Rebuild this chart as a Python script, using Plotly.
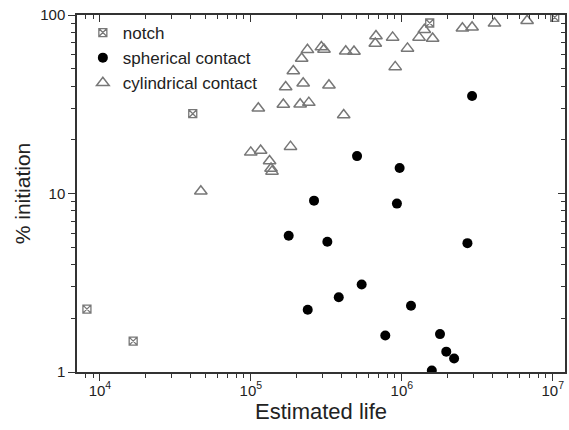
import plotly.graph_objects as go

# ---- data ----
notch_x = [8.2e3, 1.66e4, 4.12e4, 1.53e6, 1.03e7]
notch_y = [2.25, 1.49, 28.0, 90.2, 97.0]

sph_x = [5.05e5, 9.67e5, 2.92e6, 2.62e5, 9.28e5, 1.78e5, 3.21e5, 5.42e5, 3.82e5,
         2.38e5, 7.77e5, 2.72e6, 1.15e6, 1.79e6, 1.97e6, 2.22e6, 1.58e6]
sph_y = [16.2, 13.9, 35.2, 9.12, 8.78, 5.80, 5.37, 3.09, 2.62,
         2.23, 1.60, 5.27, 2.35, 1.63, 1.30, 1.19, 1.02]

cyl_x = [4.66e4, 6.74e5, 6.67e5, 8.69e5, 9.04e5, 2.37e5, 2.93e5, 3.05e5, 4.25e5,
         4.82e5, 2.17e5, 1.91e5, 2.22e5, 1.70e5, 3.29e5, 1.12e5, 1.64e5, 2.12e5,
         2.42e5, 4.12e5, 9.98e4, 1.16e5, 1.83e5, 1.33e5, 1.36e5, 1.38e5, 1.41e6,
         1.30e6, 1.60e6, 1.09e6, 2.52e6, 2.92e6, 4.11e6, 6.76e6]
cyl_y = [10.3, 76.2, 69.3, 74.9, 51.2, 63.8, 66.1, 64.1, 62.7,
         62.5, 57.1, 48.6, 41.5, 39.5, 40.4, 30.0, 31.5, 31.6,
         32.3, 27.5, 17.0, 17.4, 18.3, 15.2, 13.8, 13.3, 82.7,
         74.9, 73.9, 65.0, 84.2, 85.3, 89.8, 92.9]

x_tickvals = [1e4, 1e5, 1e6, 1e7]
x_ticktext = ["10<sup>4</sup>", "10<sup>5</sup>", "10<sup>6</sup>", "10<sup>7</sup>"]
y_tickvals = [1, 10, 100]
y_ticktext = ["1", "10", "100"]

XRANGE = [3.848, 7.081]
YRANGE = [0, 2.0]
FONT = "Liberation Sans, Arial, sans-serif"
AX = "#333333"

fig = go.Figure()
fig.add_trace(go.Scatter(
    x=notch_x, y=notch_y, mode="markers", name="notch",
    marker=dict(symbol="square-x-open", size=8, color="#777777",
                line=dict(width=1.3, color="#777777"))))
fig.add_trace(go.Scatter(
    x=sph_x, y=sph_y, mode="markers", name="spherical contact",
    marker=dict(symbol="circle", size=10, color="black", line=dict(width=0))))
fig.add_trace(go.Scatter(
    x=cyl_x, y=cyl_y, mode="markers", name="cylindrical contact",
    marker=dict(symbol="triangle-up-open", size=11, color="#777777",
                line=dict(width=1.5, color="#777777"))))
# helper trace for the mirrored (inside-tick) axes
fig.add_trace(go.Scatter(x=[1e5], y=[10], xaxis="x2", yaxis="y2", mode="markers",
                         marker=dict(opacity=0), showlegend=False, hoverinfo="skip"))

common = dict(type="log", showline=True, linecolor=AX, linewidth=1.5,
              showgrid=False, zeroline=False, tickcolor=AX, tickwidth=1.3)

fig.update_layout(
    width=569, height=430,
    margin=dict(l=77, r=4, t=15, b=58),
    paper_bgcolor="white", plot_bgcolor="white",
    font=dict(family=FONT, size=15, color="#222222"),
    showlegend=True,
    legend=dict(x=0.012, y=1.0, xanchor="left", yanchor="top",
                bgcolor="rgba(0,0,0,0)", font=dict(size=17, color="#222222"),
                itemsizing="trace", tracegroupgap=0),
    xaxis=dict(**common, range=XRANGE, tickvals=x_tickvals, ticktext=x_ticktext,
               ticks="outside", ticklen=7, ticklabelstandoff=-3,
               minor=dict(ticks="outside", ticklen=4, dtick="D1", tickcolor=AX, tickwidth=1.2),
               title=dict(text="Estimated life", font=dict(size=22), standoff=2),
               tickfont=dict(size=15)),
    yaxis=dict(**common, range=YRANGE, tickvals=y_tickvals, ticktext=y_ticktext,
               ticks="outside", ticklen=7,
               minor=dict(ticks="outside", ticklen=4, dtick="D1", tickcolor=AX, tickwidth=1.2),
               title=dict(text="% initiation", font=dict(size=21), standoff=4),
               tickfont=dict(size=15)),
    xaxis2=dict(**common, range=XRANGE, overlaying="x", side="top", anchor="y2",
                tickvals=x_tickvals, showticklabels=False, ticks="inside", ticklen=7,
                minor=dict(ticks="inside", ticklen=4, dtick="D1", tickcolor=AX, tickwidth=1.2)),
    yaxis2=dict(**common, range=YRANGE, overlaying="y", side="right", anchor="x2",
                tickvals=y_tickvals, showticklabels=False, ticks="inside", ticklen=7,
                minor=dict(ticks="inside", ticklen=4, dtick="D1", tickcolor=AX, tickwidth=1.2)),
)

fig.write_html("out.html")
